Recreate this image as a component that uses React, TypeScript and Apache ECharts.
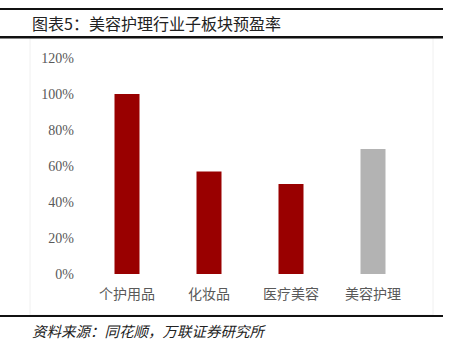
import React, { useEffect, useRef } from "react";
import * as echarts from "echarts";

const categories = ["个护用品", "化妆品", "医疗美容", "美容护理"];
const values = [100, 57, 50, 69.5];
const barColors = ["#990000", "#990000", "#990000", "#b3b3b3"];
const yTicks = [0, 20, 40, 60, 80, 100, 120];
const titleText = "图表5：美容护理行业子板块预盈率";
const sourceText = "资料来源：同花顺，万联证券研究所";

export default function App() {
  const ref = useRef<HTMLDivElement>(null);
  useEffect(() => {
    const chart = echarts.init(ref.current!, undefined, { renderer: "svg" });
    chart.setOption({
      animation: false,
      backgroundColor: "#ffffff",
      grid: { left: 86, right: 35, top: 58, bottom: 78 },
      xAxis: {
        type: "category",
        data: categories,
        axisLine: { show: false },
        axisTick: { show: false },
        axisLabel: {
          color: "#595959",
          fontSize: 14,
          fontFamily: "Noto Sans CJK SC",
          margin: 12,
        },
      },
      yAxis: {
        type: "value",
        min: yTicks[0],
        max: yTicks[yTicks.length - 1],
        interval: 20,
        splitLine: { show: false },
        axisLine: { show: false },
        axisTick: { show: false },
        axisLabel: {
          color: "#595959",
          fontSize: 14,
          fontFamily: "Liberation Serif",
          margin: 12,
          formatter: (v: number) => v + "%",
        },
      },
      series: [
        {
          type: "bar",
          barWidth: 25,
          data: values.map((v, i) => ({ value: v, itemStyle: { color: barColors[i] } })),
        },
      ],
      graphic: [
        { type: "rect", shape: { x: 30, y: 38, width: 403, height: 277 }, style: { fill: "none", stroke: "#f0f0f0", lineWidth: 1 }, silent: true },
        { type: "rect", shape: { x: 0, y: 8, width: 443, height: 2 }, style: { fill: "#111" } },
        { type: "rect", shape: { x: 0, y: 36, width: 443, height: 2.5 }, style: { fill: "#111" } },
        { type: "rect", shape: { x: 0, y: 315, width: 443, height: 2 }, style: { fill: "#111" } },
        {
          type: "text",
          x: 32,
          y: 23,
          style: {
            text: titleText,
            fontSize: 16,
            fontFamily: "Noto Sans CJK SC",
            fill: "#222",
            verticalAlign: "middle",
          },
        },
        {
          type: "text",
          x: 32,
          y: 330,
          style: {
            text: sourceText,
            fontSize: 14.5,
            fontStyle: "italic",
            fontFamily: "Noto Sans CJK SC",
            fill: "#222",
            verticalAlign: "middle",
          },
        },
      ],
    });
    return () => chart.dispose();
  }, []);
  return <div ref={ref} style={{ position: "fixed", left: 0, top: 0, width: 449, height: 352 }} />;
}
